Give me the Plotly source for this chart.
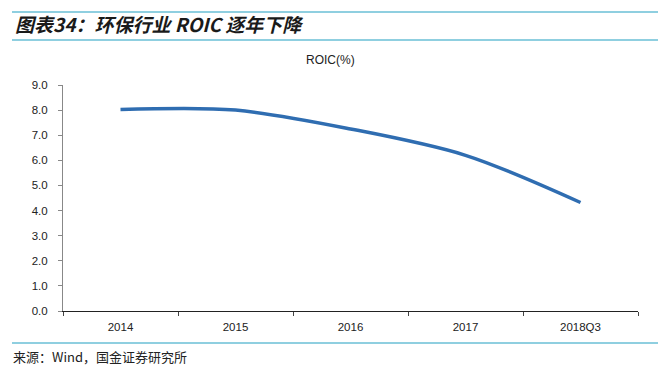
import plotly.graph_objects as go

categories = ["2014", "2015", "2016", "2017", "2018Q3"]
roic = [8.02, 8.0, 7.25, 6.2, 4.32]
y_ticks = [0, 1, 2, 3, 4, 5, 6, 7, 8, 9]
y_tick_labels = [f"{v:.1f}" for v in y_ticks]

W, H = 658, 374
L, R, T, B = 63, 20, 85, 63
pw, ph = W - L - R, H - T - B

def px_x(x):
    return (x - L) / pw

def px_y(y):
    return (H - B - y) / ph

fig = go.Figure()
fig.add_trace(go.Scatter(
    x=categories, y=roic, mode="lines",
    line=dict(color="#2F6DB1", width=3.5, shape="spline", smoothing=0.9),
    hoverinfo="skip", showlegend=False,
))

line_color = "#8FCFE0"
shapes = [
    dict(type="line", xref="paper", yref="paper", x0=px_x(12), x1=px_x(658), y0=px_y(12), y1=px_y(12),
         line=dict(color=line_color, width=2)),
    dict(type="line", xref="paper", yref="paper", x0=px_x(12), x1=px_x(658), y0=px_y(40), y1=px_y(40),
         line=dict(color=line_color, width=2)),
    dict(type="line", xref="paper", yref="paper", x0=px_x(12), x1=px_x(658), y0=px_y(343), y1=px_y(343),
         line=dict(color=line_color, width=2)),
]

annotations = [
    dict(text="<b><i>图表34：环保行业 ROIC 逐年下降</i></b>", xref="paper", yref="paper",
         x=px_x(13), y=px_y(23), xanchor="left", yanchor="middle", showarrow=False,
         font=dict(family="Noto Sans CJK SC, sans-serif", size=19, color="#1a1a1a")),
    dict(text="ROIC(%)", xref="paper", yref="paper",
         x=px_x(330), y=px_y(60), xanchor="center", yanchor="middle", showarrow=False,
         font=dict(family="Liberation Sans, Arial, sans-serif", size=12, color="#222")),
    dict(text="来源：Wind，国金证券研究所", xref="paper", yref="paper",
         x=px_x(11), y=px_y(356), xanchor="left", yanchor="middle", showarrow=False,
         font=dict(family="Noto Sans CJK SC, sans-serif", size=13, color="#222")),
]

tick_font = dict(family="Liberation Sans, Arial, sans-serif", size=11.5, color="#222")

fig.update_layout(
    width=W, height=H,
    margin=dict(l=L, r=R, t=T, b=B, pad=0),
    paper_bgcolor="white", plot_bgcolor="white",
    shapes=shapes, annotations=annotations,
    xaxis=dict(
        type="category", categoryorder="array", categoryarray=categories,
        showgrid=False, zeroline=False,
        showline=True, linecolor="#222", linewidth=1.2,
        ticks="outside", tickson="boundaries", ticklen=4, tickcolor="#444",
        tickfont=tick_font, ticklabelstandoff=5,
        range=[-0.5, 4.5], fixedrange=True,
    ),
    yaxis=dict(
        range=[0, 9], tickvals=y_ticks, ticktext=y_tick_labels,
        showgrid=False, zeroline=False,
        showline=True, linecolor="#888", linewidth=1,
        ticks="outside", ticklen=4, tickcolor="#888",
        tickfont=tick_font, ticklabelstandoff=8,
        fixedrange=True,
    ),
)

fig.write_html("out.html", config={"displayModeBar": False},
               post_script="document.body.style.margin='0';document.body.style.padding='0';")
